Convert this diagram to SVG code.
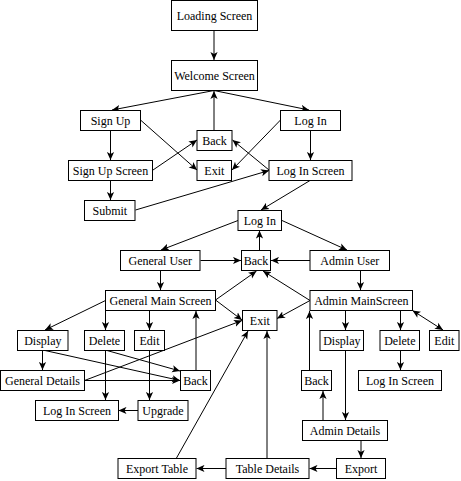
<svg xmlns="http://www.w3.org/2000/svg" width="461" height="481" viewBox="0 0 461 481">
<style>
.n rect{fill:#fff;stroke:#000;stroke-width:1}
.n text{font-family:'Liberation Serif','DejaVu Serif',serif;font-size:12px;fill:#000;text-anchor:middle;dominant-baseline:central}
.e path{fill:none;stroke:#000;stroke-width:1;marker-end:url(#ar)}
.e path.both{marker-start:url(#ar)}
</style>
<defs>
<marker id="ar" markerUnits="userSpaceOnUse" markerWidth="8" markerHeight="8" viewBox="0 0 10 10" refX="10" refY="5" orient="auto-start-reverse">
<path d="M0,0.5 L10,5 L0,9.5 L2.5,5 z" fill="#000" stroke="none"/>
</marker>
</defs>
<rect width="461" height="481" fill="#fff"/>
<g class="e" id="connectors">
<path d="M214,30.5 L214,60"/>
<path d="M214,90.5 L112,110"/>
<path d="M214,90.5 L309,110"/>
<path d="M214,130 L214,91"/>
<path d="M140.5,120 L197,170"/>
<path d="M153,170 L197,140"/>
<path d="M280.5,120 L232,170"/>
<path d="M269,170 L232.5,140"/>
<path d="M110.5,130.5 L110.5,160"/>
<path d="M110.5,180.5 L110.5,200"/>
<path d="M135.5,210 L269,170.5"/>
<path d="M310.5,130.5 L310.5,160"/>
<path d="M310,180.5 L261,210"/>
<path d="M238,220.5 L161,250"/>
<path d="M282,220.5 L347,250"/>
<path d="M259.5,250 L259.5,230.5"/>
<path d="M200.5,260.5 L241,260.5"/>
<path d="M310,260.5 L271,260.5"/>
<path d="M160.5,270.5 L160.5,290"/>
<path d="M360.5,270.5 L360.5,290"/>
<path d="M215.5,300 L256.5,271"/>
<path d="M310,300.5 L263,271"/>
<path d="M215.5,300 L242,320"/>
<path d="M310,300.5 L277,318.5"/>
<path d="M105.5,300.5 L45,330"/>
<path d="M105.5,310.5 L105.5,330"/>
<path d="M149.5,310.5 L149.5,330"/>
<path d="M196,370 L196,311"/>
<path d="M42.5,350.5 L42.5,370"/>
<path d="M45,350.5 L180,380.5"/>
<path d="M107,350.5 L180,371"/>
<path d="M84.5,380.5 L180,380.5"/>
<path d="M84.5,380.5 L242,320.5"/>
<path d="M105.5,350.5 L105.5,400"/>
<path d="M149.5,350.5 L149.5,400"/>
<path d="M138,410.5 L118.5,410.5"/>
<path d="M176.5,458 L248,331"/>
<path d="M267,458 L267,331"/>
<path d="M226,468.5 L196.5,468.5"/>
<path d="M336,468.5 L309.5,468.5"/>
<path d="M361,440.5 L361,458"/>
<path d="M323,420 L323,391"/>
<path d="M309.5,370 L309.5,311"/>
<path d="M345.5,310.5 L345.5,330"/>
<path d="M345.5,350.5 L345.5,420"/>
<path d="M400.5,310.5 L400.5,330"/>
<path d="M400.5,350.5 L400.5,370"/>
<path class="both" d="M412.5,310.5 L443,330"/>
</g>
<g class="n" id="loading-screen"><rect x="171.5" y="0.5" width="86" height="30"/><text x="214.5" y="15.5">Loading Screen</text></g>
<g class="n" id="welcome-screen"><rect x="171.5" y="60.5" width="86" height="30"/><text x="214.5" y="75.5">Welcome Screen</text></g>
<g class="n" id="sign-up"><rect x="80.5" y="110.5" width="60" height="20"/><text x="110.5" y="120.5">Sign Up</text></g>
<g class="n" id="back-1"><rect x="197" y="130.5" width="35" height="20"/><text x="214.5" y="140.5">Back</text></g>
<g class="n" id="log-in-1"><rect x="280.5" y="110.5" width="60" height="20"/><text x="310.5" y="120.5">Log In</text></g>
<g class="n" id="sign-up-screen"><rect x="68.5" y="160.5" width="84" height="20"/><text x="110.5" y="170.5">Sign Up Screen</text></g>
<g class="n" id="exit-1"><rect x="197" y="160.5" width="34.5" height="20"/><text x="214.3" y="170.5">Exit</text></g>
<g class="n" id="log-in-screen-1"><rect x="269" y="160.5" width="83" height="20"/><text x="310.5" y="170.5">Log In Screen</text></g>
<g class="n" id="submit"><rect x="84.5" y="200.5" width="50.5" height="20"/><text x="109.8" y="210.5">Submit</text></g>
<g class="n" id="log-in-2"><rect x="238" y="210.5" width="43.5" height="20"/><text x="259.8" y="220.5">Log In</text></g>
<g class="n" id="general-user"><rect x="120.5" y="250.5" width="79.5" height="20"/><text x="160.3" y="260.5">General User</text></g>
<g class="n" id="back-2"><rect x="241.5" y="250.5" width="29" height="20"/><text x="256" y="260.5">Back</text></g>
<g class="n" id="admin-user"><rect x="310" y="250.5" width="79.5" height="20"/><text x="349.8" y="260.5">Admin User</text></g>
<g class="n" id="general-main-screen"><rect x="105.5" y="290.5" width="110" height="20"/><text x="160.5" y="300.5">General Main Screen</text></g>
<g class="n" id="admin-main-screen"><rect x="310" y="290.5" width="102.5" height="20"/><text x="361.3" y="300.5">Admin MainScreen</text></g>
<g class="n" id="exit-2"><rect x="242.5" y="310.5" width="34.5" height="20"/><text x="259.8" y="320.5">Exit</text></g>
<g class="n" id="display-1"><rect x="17.5" y="330.5" width="50.5" height="20"/><text x="42.8" y="340.5">Display</text></g>
<g class="n" id="delete-1"><rect x="84.5" y="330.5" width="40" height="20"/><text x="104.5" y="340.5">Delete</text></g>
<g class="n" id="edit-1"><rect x="134.5" y="330.5" width="30" height="20"/><text x="149.5" y="340.5">Edit</text></g>
<g class="n" id="general-details"><rect x="0.5" y="370.5" width="84" height="20"/><text x="42.5" y="380.5">General Details</text></g>
<g class="n" id="back-3"><rect x="180.5" y="370.5" width="30" height="20"/><text x="195.5" y="380.5">Back</text></g>
<g class="n" id="log-in-screen-2"><rect x="35.5" y="400.5" width="83" height="20"/><text x="77" y="410.5">Log In Screen</text></g>
<g class="n" id="upgrade"><rect x="138" y="400.5" width="50" height="20"/><text x="163" y="410.5">Upgrade</text></g>
<g class="n" id="display-2"><rect x="320" y="330.5" width="43.5" height="20"/><text x="341.8" y="340.5">Display</text></g>
<g class="n" id="delete-2"><rect x="380" y="330.5" width="39.5" height="20"/><text x="399.8" y="340.5">Delete</text></g>
<g class="n" id="edit-2"><rect x="429.5" y="330.5" width="29.5" height="20"/><text x="444.3" y="340.5">Edit</text></g>
<g class="n" id="back-4"><rect x="301.5" y="370.5" width="30" height="20"/><text x="316.5" y="380.5">Back</text></g>
<g class="n" id="log-in-screen-3"><rect x="358.5" y="370.5" width="83" height="20"/><text x="400" y="380.5">Log In Screen</text></g>
<g class="n" id="admin-details"><rect x="302.5" y="420.5" width="85" height="20"/><text x="345" y="430.5">Admin Details</text></g>
<g class="n" id="export"><rect x="336.5" y="458.5" width="49" height="20"/><text x="361" y="468.5">Export</text></g>
<g class="n" id="table-details"><rect x="226" y="458.5" width="83" height="20"/><text x="267.5" y="468.5">Table Details</text></g>
<g class="n" id="export-table"><rect x="118" y="458.5" width="78" height="20"/><text x="157" y="468.5">Export Table</text></g>
</svg>
